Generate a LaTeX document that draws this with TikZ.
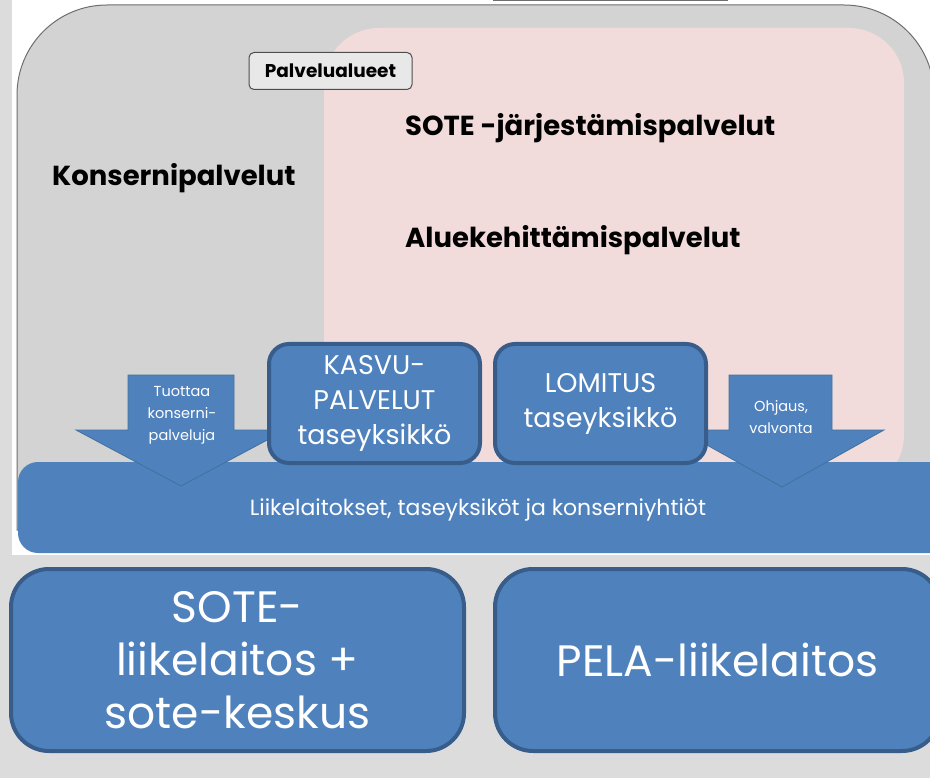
\documentclass[tikz,border=0pt]{standalone}
\usepackage{fontspec}
\setmainfont{Poppins}
\usetikzlibrary{positioning}
\definecolor{pagegray}{HTML}{DCDCDC}
\definecolor{panelgray}{HTML}{D3D3D3}
\definecolor{edgegray}{HTML}{6E6E6E}
\definecolor{rose}{HTML}{F2DCDB}
\definecolor{boxblue}{HTML}{4F81BD}
\definecolor{boxedge}{HTML}{385D8A}
\definecolor{arrowedge}{HTML}{41719C}
\tikzset{
  unitbox/.style={draw=boxedge, line width=4pt, fill=boxblue, rounded corners=20pt,
    text=white, align=center, inner sep=0pt, font=\fontsize{27}{35}\selectfont},
  bigbox/.style={unitbox, rounded corners=38pt, font=\fontsize{44}{53}\selectfont},
  blockarrow/.style={fill=boxblue, draw=arrowedge, line width=0.8pt},
  smalltext/.style={text=white, align=center, inner sep=0pt, font=\fontsize{14.5}{22}\selectfont},
  headtext/.style={anchor=west, inner sep=0pt, font=\bfseries\fontsize{27.5}{30}\selectfont},
  labelbox/.style={draw=edgegray!70!black, fill=gray!18, rounded corners=5pt, line width=1pt,
    inner sep=0pt, font=\bfseries\fontsize{18.5}{20}\selectfont}
}
\begin{document}
\begin{tikzpicture}[x=1pt,y=-1pt]
		\useasboundingbox (0,0) rectangle (930,778);
		\clip (0,0) rectangle (930,778);
		\fill[pagegray] (0,0) rectangle (930,778);
		\fill[white] (12,0) rectangle (930,555);
		%
		\draw[fill=white, draw=edgegray, line width=1pt] (493,-10) rectangle (727,1);
		\draw[fill=panelgray, draw=edgegray, line width=1pt] (17,530) [rounded corners=90pt] -- (17,5) -- (934,5) [sharp corners] -- (934,530) -- cycle;
		\fill[rose, rounded corners=55pt] (324,28) rectangle (904,490);
		%
		\node (alueet) [labelbox, minimum width=163pt, minimum height=37pt] at (330.5,71) {Palvelualueet};
		\node (sote) [headtext] at (405,128) {SOTE -järjestämispalvelut};
		\node (konserni) [headtext] at (52,178) {Konsernipalvelut};
		\node (aluekeh) [headtext] at (405,240) {Aluekehittämispalvelut};
		%
		\fill[boxblue, rounded corners=20pt] (18,462) rectangle (960,553);
		\node (liike) [smalltext, font=\fontsize{22}{24}\selectfont] at (478,510) {Liikelaitokset, taseyksiköt ja konserniyhtiöt};
		%
		\draw[blockarrow] (128,375) -- (234,375) -- (234,430) -- (286,430) -- (181,486) -- (76,430) -- (128,430) -- cycle;
		\node (tuottaa) [smalltext] at (182,415) {Tuottaa\\konserni-\\palveluja};
		\draw[blockarrow] (729,375) -- (832,375) -- (832,430) -- (884,430) -- (782,487) -- (680,430) -- (729,430) -- cycle;
		\node (ohjaus) [smalltext] at (781,417) {Ohjaus,\\valvonta};
		%
		\node (kasvu) [unitbox, minimum width=211pt, minimum height=119pt] at (374.5,403.5) {KASVU-\\PALVELUT\\taseyksikkö};
		\node (lomitus) [unitbox, minimum width=211pt, minimum height=119pt] at (600.5,403.5) {LOMITUS\\taseyksikkö};
		%
		\node (sotell) [bigbox, minimum width=453pt, minimum height=182pt] at (237.5,660) {SOTE-\\liikelaitos +\\sote-keskus};
		\node (pela) [bigbox, minimum width=445pt, minimum height=182pt] at (717.5,660) {PELA-liikelaitos};
	\end{tikzpicture}
\end{document}
